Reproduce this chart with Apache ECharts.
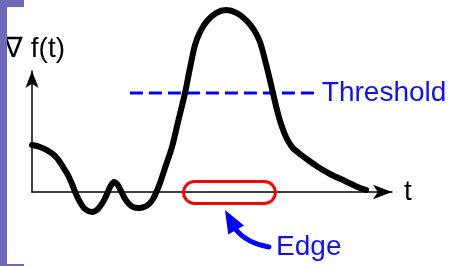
<!DOCTYPE html>
<html><head><meta charset="utf-8">
<script src="https://cdn.jsdelivr.net/npm/echarts@6/dist/echarts.min.js"></script>
<style>html,body{margin:0;padding:0;background:#fff}#c{width:454px;height:266px}</style>
</head><body><div id="c"></div>
<script>
// gradient curve: t values and f values
var tValues = [0, 2.22, 5.0, 6.94, 8.61, 10.0, 11.11, 12.22, 13.33, 14.72, 16.67, 18.33, 19.72, 20.83, 21.67, 22.78, 23.61, 24.44, 25.56, 26.67, 28.06, 29.72, 31.11, 32.5, 33.61, 34.44, 35.56, 37.22, 38.89, 40.56, 42.5, 43.89, 45.28, 46.67, 48.61, 51.11, 53.89, 56.94, 59.72, 61.67, 63.33, 64.72, 65.83, 66.94, 68.06, 69.17, 70.56, 72.22, 74.44, 76.67, 79.44, 82.78, 86.94, 91.11, 92.78];
var fValues = [3.88, 3.72, 3.31, 2.81, 2.07, 1.40, 0.66, -0.17, -0.83, -1.40, -1.65, -1.40, -0.83, -0.17, 0.41, 0.83, 0.66, 0.25, -0.41, -0.91, -1.24, -1.32, -1.24, -0.99, -0.58, -0.08, 0.74, 2.23, 3.72, 5.79, 8.18, 10.25, 12.15, 13.22, 14.13, 14.79, 15.04, 14.79, 14.13, 13.39, 12.40, 10.91, 9.59, 8.18, 6.78, 5.62, 4.55, 3.72, 3.14, 2.64, 2.07, 1.49, 0.91, 0.33, 0.17];
var thresholdT = [27.2, 79.4];
var thresholdF = 8.18;
var edgeT = [42.1, 67.6];
var edgeF = [-0.95, 0.87];
var arrowTip = [53.6, -1.49], arrowBase = [56.7, -3.14], arrowCtrl = [59.7, -4.21], arrowTail = [65.8, -4.55];
var edgeLabelPos = [67.8, -4.55];
var yAxisName = '∇ f(t)', xAxisName = 't', thresholdLabel = 'Threshold', edgeLabel = 'Edge';

var FONT = '"Liberation Sans", Arial, sans-serif';
var chart = echarts.init(document.getElementById('c'), null, {renderer: 'canvas'});
var curve = tValues.map(function (t, i) { return [t, fValues[i]]; });
var option = {
  animation: false,
  backgroundColor: '#ffffff',
  grid: {left: 32, right: 62, top: 71, bottom: 74},
  xAxis: {
    type: 'value', min: 0, max: 100,
    name: xAxisName, nameLocation: 'end', nameGap: 12,
    nameTextStyle: {fontSize: 28, color: '#000', fontFamily: FONT, verticalAlign: 'middle'},
    axisLine: {lineStyle: {color: '#000', width: 1.5}, symbol: ['none', 'arrow'], symbolSize: [11, 19]},
    axisTick: {show: false}, axisLabel: {show: false}, splitLine: {show: false}
  },
  yAxis: {
    type: 'value', min: 0, max: 10,
    name: yAxisName, nameLocation: 'end', nameGap: 8,
    nameTextStyle: {fontSize: 28, color: '#000', fontFamily: FONT, align: 'center', padding: [0, 0, 0, 5]},
    axisLine: {show: true, onZero: false, lineStyle: {color: '#000', width: 1.5}, symbol: ['none', 'arrow'], symbolSize: [10, 17]},
    axisTick: {show: false}, axisLabel: {show: false}, splitLine: {show: false}
  },
  series: [
    {
      type: 'line', data: curve, smooth: 0.3, symbol: 'none', clip: false,
      lineStyle: {color: '#000', width: 6, cap: 'round', join: 'round'}, z: 3
    },
    {
      type: 'line', data: [[thresholdT[0], thresholdF], [thresholdT[1], thresholdF]], symbol: 'none', clip: false,
      lineStyle: {color: '#0000ff', width: 3, type: [13, 6]}, z: 2,
      endLabel: {show: true, formatter: thresholdLabel, color: '#1010ff', fontSize: 28, fontFamily: FONT, distance: 4}
    }
  ]
};
chart.setOption(option);

function px(p) { return chart.convertToPixel({xAxisIndex: 0, yAxisIndex: 0}, p); }
var r0 = px([edgeT[0], edgeF[1]]), r1 = px([edgeT[1], edgeF[0]]);
var tip = px(arrowTip), base = px(arrowBase), ctrl = px(arrowCtrl), tail = px(arrowTail);
var dx = tip[0] - base[0], dy = tip[1] - base[1], len = Math.sqrt(dx * dx + dy * dy);
var nx = -dy / len, ny = dx / len, hw = 9;
var lp = px(edgeLabelPos);
chart.setOption({
  graphic: [
    {type: 'rect', left: 0, top: 0, shape: {x: 0, y: 0, width: 7, height: 266}, style: {fill: '#6e69ba'}, z: 10},
    {type: 'rect', left: 0, top: 0, shape: {x: 0, y: 0, width: 24, height: 7}, style: {fill: '#6e69ba'}, z: 10},
    {type: 'rect', left: 0, top: 264, shape: {x: 0, y: 0, width: 24, height: 2}, style: {fill: '#6e69ba'}, z: 10},
    {type: 'rect', shape: {x: r0[0], y: r0[1], width: r1[0] - r0[0], height: r1[1] - r0[1], r: 12},
      style: {fill: 'none', stroke: '#ff0000', lineWidth: 3}, z: 10},
    {type: 'bezierCurve', shape: {x1: tail[0], y1: tail[1], cpx1: ctrl[0], cpy1: ctrl[1], x2: base[0], y2: base[1]},
      style: {stroke: '#0000ff', lineWidth: 5, fill: 'none', lineCap: 'round'}, z: 10},
    {type: 'polygon', shape: {points: [tip, [base[0] + nx * hw, base[1] + ny * hw], [base[0] - nx * hw, base[1] - ny * hw]]},
      style: {fill: '#0000ff'}, z: 10},
    {type: 'text', x: lp[0], y: lp[1], style: {text: edgeLabel, fill: '#1010ff', fontSize: 28, fontFamily: FONT, verticalAlign: 'middle', align: 'left'}, z: 10}
  ]
});
</script></body></html>
